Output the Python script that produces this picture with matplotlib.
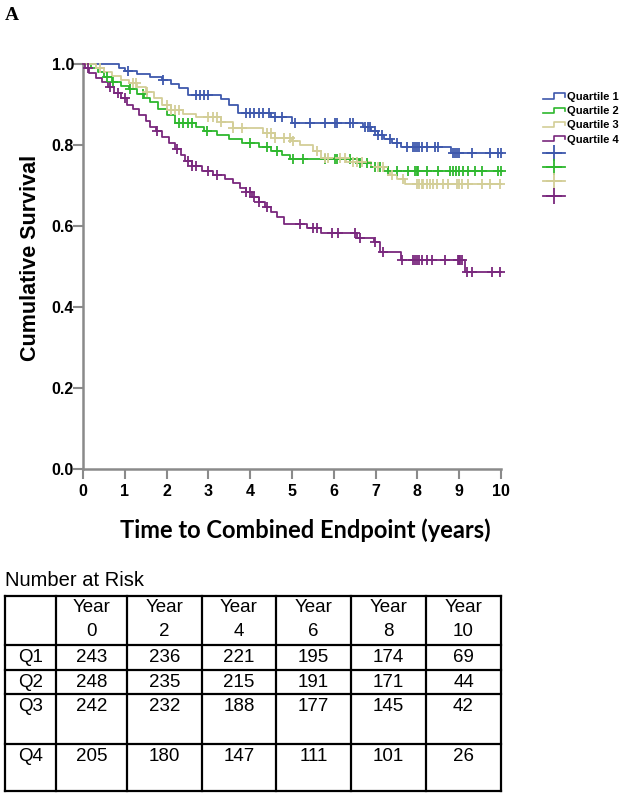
import numpy as np
import matplotlib.pyplot as plt
from matplotlib.lines import Line2D
from matplotlib.legend_handler import HandlerBase

# ---- survival steps (time of drop, survival after) ----
q1_t = [0, 0.85, 1.0, 1.3, 1.6, 1.9, 2.1, 2.3, 2.5, 3.3, 3.5, 3.7, 4.5, 5.0,
        6.7, 6.9, 7.05, 7.2, 7.4, 7.6, 8.8]
q1_s = [1.0, 0.99, 0.982, 0.975, 0.967, 0.96, 0.95, 0.94, 0.923, 0.913, 0.9,
        0.88, 0.87, 0.855, 0.845, 0.835, 0.825, 0.815, 0.805, 0.795, 0.78]

q2_t = [0, 0.2, 0.35, 0.5, 0.7, 0.9, 1.1, 1.3, 1.45, 1.6, 1.8, 2.0, 2.2, 2.7,
        2.9, 3.2, 3.5, 3.8, 4.2, 4.5, 4.75, 4.95, 6.6, 6.9, 7.3]
q2_s = [1.0, 0.99, 0.98, 0.968, 0.955, 0.945, 0.938, 0.925, 0.915, 0.905, 0.89,
        0.875, 0.855, 0.845, 0.835, 0.825, 0.815, 0.805, 0.795, 0.785, 0.775,
        0.765, 0.755, 0.745, 0.735]

q3_t = [0, 0.3, 0.5, 0.7, 0.9, 1.1, 1.3, 1.5, 1.7, 1.9, 2.1, 2.4, 2.7, 3.3,
        3.6, 4.3, 4.6, 5.0, 5.2, 5.5, 5.7, 6.3, 6.9, 7.2, 7.35, 7.5, 7.7]
q3_s = [1.0, 0.99, 0.98, 0.97, 0.96, 0.952, 0.942, 0.93, 0.915, 0.9, 0.886,
        0.877, 0.87, 0.857, 0.842, 0.83, 0.817, 0.81, 0.8, 0.785, 0.768, 0.758,
        0.746, 0.735, 0.726, 0.715, 0.703]

q4_t = [0, 0.05, 0.15, 0.3, 0.45, 0.6, 0.75, 0.9, 1.05, 1.2, 1.35, 1.5, 1.6,
        1.75, 1.9, 2.05, 2.2, 2.35, 2.45, 2.6, 2.85, 3.1, 3.4, 3.6, 3.75, 3.9,
        4.05, 4.2, 4.35, 4.5, 4.65, 4.8, 5.35, 5.7, 6.55, 6.95, 7.1, 7.6, 9.15]
q4_s = [1.0, 0.99, 0.978, 0.965, 0.955, 0.943, 0.928, 0.915, 0.9, 0.89, 0.874,
        0.86, 0.845, 0.835, 0.82, 0.805, 0.79, 0.775, 0.76, 0.748, 0.735, 0.727,
        0.716, 0.705, 0.695, 0.683, 0.672, 0.66, 0.648, 0.635, 0.622, 0.605,
        0.595, 0.582, 0.57, 0.56, 0.537, 0.516, 0.486]

# censored times (+ marks)
q1_cens = [1.08, 1.92, 2.7, 2.8, 2.9, 3.0, 3.9, 4.0, 4.1, 4.2, 4.3, 4.45, 4.6,
           4.75, 5.07, 5.43, 5.79, 6.03, 6.08, 6.39, 6.46, 6.75, 6.82, 6.87,
           6.99, 7.06, 7.15, 7.34, 7.51, 7.75, 7.9, 7.95, 8.0, 8.05, 8.1, 8.23,
           8.42, 8.49, 8.85, 8.9, 8.95, 9.0, 9.31, 9.74, 9.93, 10.0]
q2_cens = [0.57, 0.72, 1.12, 1.44, 2.3, 2.4, 2.5, 2.6, 2.97, 4.0, 4.4, 4.64,
           5.03, 5.26, 5.79, 6.03, 6.08, 6.39, 6.63, 6.79, 6.99, 7.1, 7.3, 7.51,
           7.78, 7.94, 7.98, 8.01, 8.23, 8.49, 8.78, 8.85, 8.92, 9.0, 9.09,
           9.21, 9.38, 9.55, 9.93, 10.0]
q3_cens = [0.41, 1.2, 1.27, 1.53, 2.0, 2.1, 2.2, 2.3, 3.0, 3.1, 3.2, 3.3, 3.6,
           3.8, 4.4, 4.5, 4.6, 4.8, 4.95, 5.02, 5.6, 5.8, 5.86, 6.15, 6.27,
           6.46, 6.56, 6.67, 7.06, 7.18, 7.39, 7.66, 8.0, 8.05, 8.1, 8.13,
           8.23, 8.3, 8.37, 8.47, 8.61, 8.73, 8.95, 9.0, 9.07, 9.21, 9.55,
           9.74, 9.98]
q4_cens = [0.13, 0.65, 0.84, 1.0, 1.77, 2.25, 2.5, 2.6, 2.7, 3.0, 3.2, 3.9,
           4.0, 4.1, 4.2, 4.4, 5.2, 5.5, 5.6, 5.96, 6.1, 6.5, 6.63, 6.99, 7.18,
           7.63, 7.9, 7.95, 8.0, 8.05, 8.1, 8.23, 8.35, 8.66, 8.97, 9.0, 9.03,
           9.07, 9.19, 9.31, 9.78, 9.98]

labels = ["Quartile 1", "Quartile 2", "Quartile 3", "Quartile 4"]
colors = ["#3e58ac", "#2eb82e", "#d3ce97", "#79287d"]

# number at risk table
risk_years = ["0", "2", "4", "6", "8", "10"]
risk_rows = ["Q1", "Q2", "Q3", "Q4"]
risk_q1 = [243, 236, 221, 195, 174, 69]
risk_q2 = [248, 235, 215, 191, 171, 44]
risk_q3 = [242, 232, 188, 177, 145, 42]
risk_q4 = [205, 180, 147, 111, 101, 26]


class StepHandler(HandlerBase):
    # small step-shaped legend key like SPSS
    def create_artists(self, legend, orig_handle, xdescent, ydescent,
                       width, height, fontsize, trans):
        xs = np.array([0, 0.5, 0.5, 1.0, 1.0]) * width - xdescent
        ys = np.array([0.15, 0.15, 0.85, 0.85, 0.45]) * height - ydescent
        ln = Line2D(xs, ys, color=orig_handle.get_color(), lw=1.2,
                    transform=trans)
        return [ln]


def main():
    plt.rcParams["font.family"] = ["Liberation Sans", "DejaVu Sans"]
    fig = plt.figure(figsize=(6.26, 7.97), dpi=100)
    W, H = 626, 797
    ax = fig.add_axes([83 / W, 1 - 469 / H, 418 / W, 405 / H])

    series = [(q1_t, q1_s, q1_cens), (q2_t, q2_s, q2_cens),
              (q3_t, q3_s, q3_cens), (q4_t, q4_s, q4_cens)]
    line_handles, cens_handles = [], []
    for (t, s, c), col, lab in zip(series, colors, labels):
        t = np.asarray(t)
        s = np.asarray(s)
        tt = np.append(t, 10.0)
        ss = np.append(s, s[-1])
        ax.step(tt, ss, where="post", color=col, lw=1.3, clip_on=False,
                zorder=3)
        c = np.asarray(c)
        cy = s[np.searchsorted(t, c, side="right") - 1]
        ax.plot(c, cy, ls="none", marker="+", ms=6.5, mew=1.3, color=col,
                clip_on=False, zorder=4)
        line_handles.append(Line2D([], [], color=col, label=lab))
        cens_handles.append(Line2D([], [], color=col, marker="+", ms=11,
                                   mew=1.3, lw=1.3))

    ax.set_xlim(0, 10)
    ax.set_ylim(0, 1)
    ax.set_xticks(range(0, 11))
    ax.set_yticks([0.0, 0.2, 0.4, 0.6, 0.8, 1.0])
    ax.set_yticklabels(["0.0", "0.2", "0.4", "0.6", "0.8", "1.0"])
    for side in ["top", "right"]:
        ax.spines[side].set_visible(False)
    for side in ["left", "bottom"]:
        ax.spines[side].set_color("#8a8a8a")
        ax.spines[side].set_linewidth(1.8)
    ax.tick_params(axis="both", color="#8a8a8a", width=1.5, length=7.5,
                   labelsize=11.5)
    ax.tick_params(axis="x", pad=3)
    ax.tick_params(axis="y", pad=-1)
    for lb in ax.get_xticklabels() + ax.get_yticklabels():
        lb.set_fontweight("bold")

    fig.text(31 / W, 1 - 258 / H, "Cumulative Survival", rotation=90,
             ha="center", va="center", fontsize=15.5, fontweight="bold")
    fig.text(305 / W, 1 - 530 / H, "Time to Combined Endpoint (years)",
             ha="center", va="center", fontsize=17, fontweight="bold",
             family=["Lato", "DejaVu Sans"])

    fig.text(5 / W, 1 - 15 / H, "A", ha="left", va="center", fontsize=14,
             fontweight="bold", family=["Liberation Serif", "DejaVu Serif"])

    fig.legend(line_handles + cens_handles, labels + [""] * 4,
               handler_map={h: StepHandler() for h in line_handles},
               loc="upper left", bbox_to_anchor=(543 / W, 1 - 92 / H),
               frameon=False, prop={"size": 8, "weight": "bold"},
               handlelength=2.0, handletextpad=0.15, labelspacing=0.38,
               borderpad=0, borderaxespad=0)

    # ---- number at risk table (drawn in pixel coords) ----
    tax = fig.add_axes([0, 0, 1, 1])
    tax.set_xlim(0, W)
    tax.set_ylim(H, 0)
    tax.axis("off")
    col_x = [5, 56, 127, 202, 276, 351, 426, 501]
    row_y = [596, 645, 670, 694, 744, 791]
    for x in col_x:
        tax.plot([x, x], [row_y[0], row_y[-1]], color="black", lw=1.6)
    for y in row_y:
        tax.plot([col_x[0], col_x[-1]], [y, y], color="black", lw=1.6)
    tfs = 13.5
    tax.text(5, 581, "Number at Risk", ha="left", va="center", fontsize=14.5)
    for j, yr in enumerate(risk_years):
        xc = (col_x[j + 1] + col_x[j + 2]) / 2
        tax.text(xc, row_y[0] + 12, "Year", ha="center", va="center",
                 fontsize=tfs)
        tax.text(xc, row_y[0] + 36, yr, ha="center", va="center", fontsize=tfs)
    values = [risk_q1, risk_q2, risk_q3, risk_q4]
    for i, (rname, vals) in enumerate(zip(risk_rows, values)):
        yc = row_y[i + 1] + 12.5
        tax.text((col_x[0] + col_x[1]) / 2, yc, rname, ha="center",
                 va="center", fontsize=tfs)
        for j, v in enumerate(vals):
            xc = (col_x[j + 1] + col_x[j + 2]) / 2
            tax.text(xc, yc, str(v), ha="center", va="center", fontsize=tfs)

    fig.savefig("out.png", dpi=100)


if __name__ == "__main__":
    main()
